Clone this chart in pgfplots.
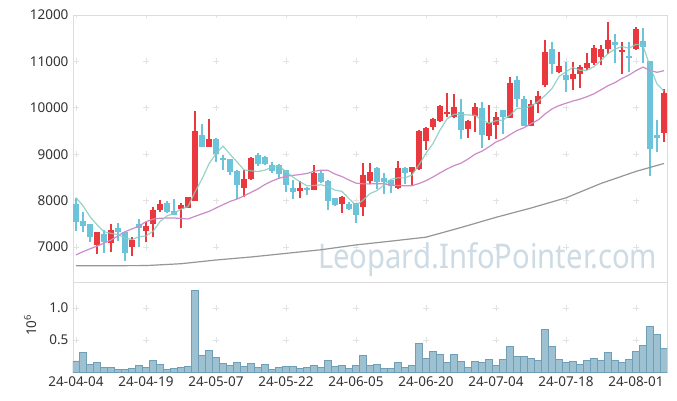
\documentclass[border=0pt]{standalone}
\usepackage{fontspec}
\setmainfont{Noto Sans}
\usepackage{pgfplots}
\usepackage{pgfplotstable}
\pgfplotsset{compat=1.18}
\definecolor{upc}{RGB}{233,56,62}
\definecolor{dnc}{RGB}{108,196,218}
\definecolor{ma5}{RGB}{135,204,190}
\definecolor{ma20}{RGB}{204,140,200}
\definecolor{ma120}{RGB}{150,150,150}
\definecolor{volf}{RGB}{152,190,206}
\definecolor{vold}{RGB}{110,158,184}
\definecolor{wm}{RGB}{205,219,229}
\definecolor{frame}{RGB}{220,220,220}
\definecolor{gridc}{RGB}{226,226,226}

\pgfplotstableread{
x o c h l
3 7044 7324 7330 6850
5 7093 7367 7490 6899
8 7007 7151 7216 6806
10 7345 7453 7546 7102
11 7490 7798 7869 7222
12 7798 7927 8013 7760
15 7813 7906 7955 7403
16 7847 8071 8080 7840
17 7998 9500 9938 7998
19 9162 9328 9752 9162
24 8265 8466 8660 8084
25 8460 8912 8930 8450
32 8214 8278 8429 8050
34 8229 8602 8768 8220
38 7921 8084 8100 7727
41 7869 8552 8804 7668
42 8429 8610 8804 8358
46 8278 8709 8854 8260
48 8610 8718 8730 8337
49 8675 9507 9520 8660
50 9285 9571 9580 9091
51 9593 9759 9770 9522
52 9722 10045 10060 9700
53 9867 9916 10313 9808
54 9795 10024 10298 9780
56 9537 9722 9740 9343
57 9830 10011 10110 9485
59 9399 9666 10061 9306
60 9630 9795 9916 9321
62 9787 10528 10657 9780
65 9614 10076 10168 9600
66 10076 10254 10362 9882
67 10492 11196 11461 10455
69 10765 10901 11213 10750
71 10614 10722 10994 10384
72 10722 10873 10923 10427
73 10851 10959 11175 10815
74 10959 11282 11354 10923
75 11101 11261 11343 10933
76 11257 11461 11843 11160
78 11209 11246 11425 10718
80 11261 11692 11752 11250
84 9451 10313 10405 9263
}\up

\pgfplotstableread{
x o c h l
0 7927 7546 8063 7345
1 7567 7459 7761 7330
2 7496 7222 7500 7115
4 7281 7102 7367 6865
6 7403 7317 7520 7130
7 7317 6865 7330 6700
9 7490 7416 7597 7007
13 7942 7761 8000 7740
14 7776 7690 8028 7690
18 9414 9162 9651 9150
20 9328 9005 9340 8839
21 8912 8875 8983 8660
22 8890 8623 8900 8552
23 8645 8337 8650 8028
26 8983 8789 9033 8746
27 8946 8789 8960 8760
28 8768 8645 8832 8595
29 8768 8573 8790 8487
30 8660 8337 8660 8192
31 8278 8186 8444 8028
33 8278 8229 8290 8121
35 8602 8408 8660 8373
36 8429 7992 8440 7798
37 8050 7906 8060 7880
39 7927 7819 7970 7800
40 7942 7690 7950 7511
43 8709 8408 8730 8244
44 8494 8408 8588 8143
45 8444 8322 8450 8158
47 8709 8602 8720 8358
55 9903 9522 10183 9321
58 9989 9414 10132 9127
61 9953 9795 9960 9436
63 10599 10183 10685 10024
64 10183 9614 10254 9600
68 11261 10938 11412 10729
70 10707 10599 10994 10347
77 11412 11360 11601 10966
79 11116 11084 11412 10765
81 11440 11321 11713 10976
82 10998 9106 11000 8520
83 9414 9360 9744 9048
}\down

\pgfplotstableread{
x a b
0 8063 6830
1 7890 6900
2 7653 6960
3 7480 7020
4 7331 7085
5 7295 7150
6 7266 7240
7 7195 7330
8 7160 7390
9 7223 7450
10 7240 7546
11 7337 7600
12 7549 7620
13 7671 7625
14 7726 7625
15 7816 7615
16 7871 7605
17 8186 7660
18 8466 7715
19 8793 7768
20 9013 7841
21 9174 7912
22 8999 7982
23 8834 8033
24 8661 8101
25 8643 8178
26 8625 8252
27 8659 8348
28 8720 8423
29 8742 8481
30 8627 8525
31 8506 8544
32 8404 8562
33 8321 8585
34 8326 8631
35 8341 8656
36 8302 8652
37 8227 8572
38 8198 8518
39 8042 8443
40 7898 8377
41 8010 8361
42 8151 8360
43 8216 8364
44 8334 8361
45 8460 8331
46 8491 8327
47 8490 8318
48 8552 8322
49 8772 8368
50 9021 8430
51 9231 8509
52 9520 8597
53 9760 8681
54 9863 8753
55 9853 8808
56 9846 8895
57 9839 9000
58 9739 9066
59 9667 9159
60 9722 9264
61 9736 9326
62 9840 9422
63 9993 9511
64 9983 9571
65 10039 9659
66 10131 9736
67 10265 9866
68 10416 9977
69 10673 10047
70 10778 10098
71 10871 10146
72 10807 10187
73 10811 10240
74 10887 10303
75 11019 10389
76 11167 10476
77 11265 10544
78 11322 10635
79 11282 10706
80 11369 10801
81 11341 10878
82 10890 10806
83 10513 10765
84 10358 10800
}\ma

\pgfplotstableread{
x g
0 6597
5 6597
10 6600
15 6640
20 6720
25 6785
30 6863
35 6941
40 7045
45 7127
50 7212
55 7420
60 7640
65 7840
70 8060
75 8370
80 8630
84 8800
}\malong

\pgfplotstableread{
x v
0 0.172
1 0.307
2 0.120
3 0.151
4 0.073
5 0.073
6 0.042
7 0.042
8 0.057
9 0.104
10 0.073
11 0.182
12 0.120
13 0.042
14 0.057
15 0.073
16 0.089
17 1.276
18 0.260
19 0.339
20 0.229
21 0.135
22 0.104
23 0.151
24 0.089
25 0.135
26 0.073
27 0.120
28 0.042
29 0.073
30 0.089
31 0.089
32 0.057
33 0.073
34 0.104
35 0.073
36 0.182
37 0.089
38 0.104
39 0.057
40 0.104
41 0.260
42 0.104
43 0.120
44 0.057
45 0.057
46 0.151
47 0.073
48 0.104
49 0.448
50 0.214
51 0.323
52 0.276
53 0.151
54 0.276
55 0.167
56 0.073
57 0.167
58 0.151
59 0.198
60 0.104
61 0.198
62 0.401
63 0.245
64 0.245
65 0.214
66 0.182
67 0.667
68 0.401
69 0.198
70 0.151
71 0.167
72 0.120
73 0.182
74 0.214
75 0.182
76 0.307
77 0.182
78 0.151
79 0.198
80 0.323
81 0.417
82 0.714
83 0.589
84 0.370
}\vol

\begin{document}
\begin{tikzpicture}[x=1pt,y=1pt]
\path[use as bounding box, fill=white] (0,0) rectangle (677,400);
\pgfplotsset{
  every axis/.append style={
    scale only axis, anchor=south west,
    xmin=-0.43, xmax=84.43,
    major tick length=0pt,
    axis line style={frame},
    tick label style={font=\fontsize{13.5}{14}\selectfont, text=black!80},
    xtick={0,10,...,80},
    scaled y ticks=false,
    xmajorgrids, ymajorgrids,
    y grid style={gridc, line width=0.8pt, dash pattern=on 6pt off 64pt, dash phase=0pt},
  },
}
\begin{axis}[at={(73pt,118pt)}, width=594pt, height=267pt,
  ymin=6246, ymax=12000,
  xticklabels={},
  ytick={7000,8000,9000,10000,11000,12000},
  yticklabels={7000,8000,9000,10000,11000,12000},
  yticklabel style={xshift=-1pt},
  x grid style={gridc, line width=0.8pt, dash pattern=on 6pt off 40.4pt, dash phase=14.4pt},
]
\node[anchor=base east, text=wm, inner sep=0pt] at (rel axis cs:0.984,0.05)
  {\scalebox{0.86}[1]{\fontsize{34}{34}\selectfont Leopard.InfoPointer.com}};
% wicks
\addplot[draw=none, mark=none, forget plot, error bars/.cd, y dir=plus, y explicit, error mark=none,
  error bar style={draw=upc, line width=1.3pt}]
  table[x=x, y=l, y error plus expr=\thisrow{h}-\thisrow{l}] {\up};
\addplot[draw=none, mark=none, forget plot, error bars/.cd, y dir=plus, y explicit, error mark=none,
  error bar style={draw=dnc, line width=1.3pt}]
  table[x=x, y=l, y error plus expr=\thisrow{h}-\thisrow{l}] {\down};
% bodies
\addplot[draw=none, mark=none, forget plot, error bars/.cd, y dir=plus, y explicit, error mark=none,
  error bar style={draw=upc, line width=5.5pt}]
  table[x=x, y=o, y error plus expr=\thisrow{c}-\thisrow{o}] {\up};
\addplot[draw=none, mark=none, forget plot, error bars/.cd, y dir=plus, y explicit, error mark=none,
  error bar style={draw=dnc, line width=5.5pt}]
  table[x=x, y=c, y error plus expr=\thisrow{o}-\thisrow{c}] {\down};
% moving averages
\addplot[ma120, line width=1.2pt, mark=none] table[x=x, y=g] {\malong};
\addplot[ma20, line width=1.2pt, mark=none] table[x=x, y=b] {\ma};
\addplot[ma5, line width=1.2pt, mark=none, opacity=0.85] table[x=x, y=a] {\ma};
\end{axis}
\begin{axis}[at={(73pt,28pt)}, width=594pt, height=90pt,
  ymin=0, ymax=1.406,
  ytick={0.5,1.0}, yticklabels={0.5,1.0},
  x grid style={gridc, line width=0.8pt, dash pattern=on 6pt off 26pt, dash phase=3pt},
  xticklabels={24-04-04,24-04-19,24-05-07,24-05-22,24-06-05,24-06-20,24-07-04,24-07-18,24-08-01},
  xticklabel style={yshift=-1pt},
  yticklabel style={xshift=-1pt},
  ylabel={10\textsuperscript{6}},
  ylabel style={font=\fontsize{13.5}{14}\selectfont, text=black!80, at={(axis description cs:-0.072,0.52)}, anchor=center},
]
\addplot[ybar, bar width=7pt, fill=volf, draw=vold, line width=0.6pt, fill opacity=0.95] table[x=x, y=v] {\vol};
\end{axis}
\end{tikzpicture}
\end{document}
